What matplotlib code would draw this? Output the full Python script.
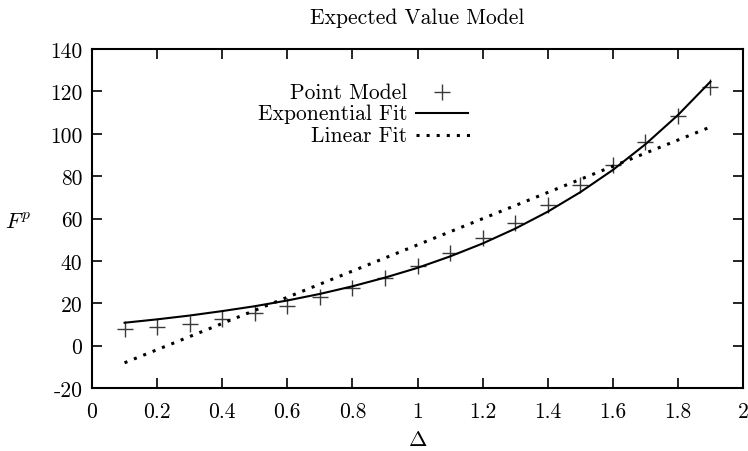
import matplotlib
matplotlib.use('Agg')
import matplotlib.pyplot as plt
from matplotlib.ticker import MultipleLocator, FormatStrFormatter
from matplotlib.lines import Line2D

plt.rcParams['font.family'] = 'cmr10'
plt.rcParams['mathtext.fontset'] = 'cm'
plt.rcParams['axes.unicode_minus'] = False
plt.rcParams['font.size'] = 15.5

# point model values
delta = [0.1, 0.2, 0.3, 0.4, 0.5, 0.6, 0.7, 0.8, 0.9, 1.0,
         1.1, 1.2, 1.3, 1.4, 1.5, 1.6, 1.7, 1.8, 1.9]
point_model = [8.0, 8.8, 10.4, 12.7, 15.6, 18.9, 23.0, 27.4, 32.0, 37.7,
               43.9, 50.7, 58.0, 66.5, 76.0, 85.4, 96.2, 108.5, 122.0]
# exponential fit curve as read at the same deltas
exp_fit = [10.8, 12.4, 14.2, 16.3, 18.6, 21.3, 24.4, 28.0, 32.1, 36.7,
           42.1, 48.2, 55.2, 63.2, 72.4, 82.9, 95.0, 108.8, 124.6]
# linear fit end points
lin_x = [0.1, 1.9]
lin_fit = [-8.1, 103.2]

fig = plt.figure(figsize=(7.48, 4.52), dpi=100)
ax = fig.add_axes([92 / 748, 63 / 452, 651 / 748, 339 / 452])

ax.plot(delta, point_model, linestyle='none', marker='+', markersize=11,
        markeredgewidth=1.0, color='#3a3a3a')
ax.plot(delta, exp_fit, '-', color='black', linewidth=1.5)
ax.plot(lin_x, lin_fit, color='black', linewidth=2.2,
        linestyle=(0, (1, 2.3)), dash_capstyle='butt')

ax.set_xlim(0, 2)
ax.set_ylim(-20, 140)
ax.xaxis.set_major_locator(MultipleLocator(0.2))
ax.yaxis.set_major_locator(MultipleLocator(20))
ax.xaxis.set_major_formatter(FormatStrFormatter('%g'))
ax.yaxis.set_major_formatter(FormatStrFormatter('%g'))
ax.tick_params(direction='in', length=7.5, width=1.2, top=True, right=True,
               labelsize=15.5)
ax.tick_params(axis='x', pad=10)
ax.tick_params(axis='y', pad=7)
for s in ax.spines.values():
    s.set_linewidth(1.5)

ax.set_title('Expected Value Model', fontsize=15.5, pad=19)
ax.set_xlabel(r'$\Delta$', fontsize=16, labelpad=6)
ax.set_ylabel(r'$F^p$', fontsize=16, rotation=0, ha='center', va='center')
ax.yaxis.set_label_coords(-0.113, 0.49)

# key, right-justified text like the original
kx = (407 - 92) / 651
rows = [(93, 'Point Model'), (114, 'Exponential Fit'), (136, 'Linear Fit')]
for py, label in rows:
    ax.text(kx, (389 - py) / 339, label, transform=ax.transAxes,
            ha='right', va='center', fontsize=15.5)
ax.add_line(Line2D([(442 - 92) / 651], [(389 - 93) / 339], transform=ax.transAxes,
                   linestyle='none', marker='+', markersize=11,
                   markeredgewidth=1.0, color='#3a3a3a'))
ax.add_line(Line2D([(416 - 92) / 651, (468 - 92) / 651], [(389 - 114) / 339] * 2,
                   transform=ax.transAxes, color='black', linewidth=1.5))
ax.add_line(Line2D([(416 - 92) / 651, (471 - 92) / 651], [(389 - 136) / 339] * 2,
                   transform=ax.transAxes, color='black', linewidth=2.2,
                   linestyle=(0, (1, 2.3)), dash_capstyle='butt'))

fig.savefig('out.png', dpi=100)
